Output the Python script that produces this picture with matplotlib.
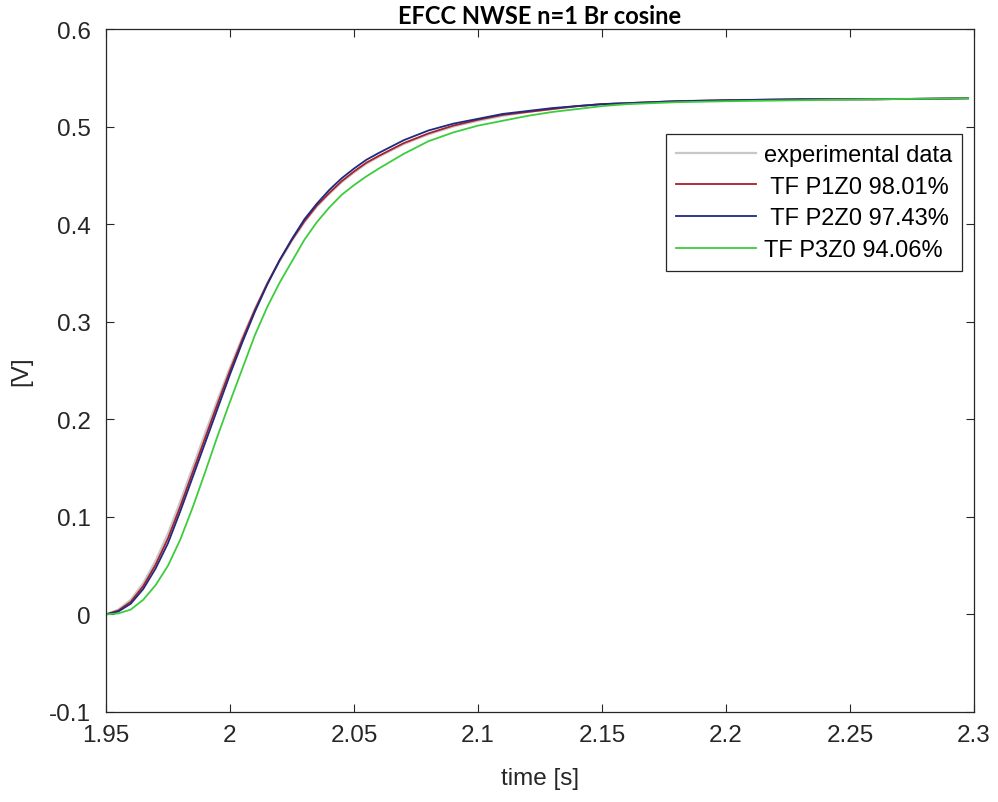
import matplotlib
matplotlib.use('Agg')
from matplotlib import pyplot as plt

plt.rcParams['font.family'] = ['Liberation Sans', 'DejaVu Sans']

# time axis shared by all four curves [s]
t = [1.950, 1.955, 1.960, 1.965, 1.970, 1.975, 1.980, 1.985, 1.990, 1.995,
     2.000, 2.005, 2.010, 2.015, 2.020, 2.025, 2.030, 2.035, 2.040, 2.045,
     2.050, 2.055, 2.060, 2.070, 2.080, 2.090, 2.100, 2.110, 2.120, 2.130,
     2.140, 2.150, 2.160, 2.180, 2.200, 2.230, 2.260, 2.2976]

# experimental data [V]
v_exp = [0.000, 0.005, 0.015, 0.032, 0.055, 0.083, 0.116, 0.151, 0.186, 0.220,
         0.253, 0.284, 0.313, 0.339, 0.362, 0.383, 0.402, 0.418, 0.431, 0.443,
         0.453, 0.462, 0.469, 0.482, 0.492, 0.500, 0.506, 0.511, 0.515, 0.518,
         0.521, 0.523, 0.524, 0.526, 0.527, 0.528, 0.528, 0.529]

# TF P1Z0
v_p1 = [0.000, 0.004, 0.013, 0.029, 0.051, 0.078, 0.111, 0.146, 0.181, 0.216,
        0.250, 0.282, 0.312, 0.339, 0.363, 0.384, 0.403, 0.419, 0.432, 0.444,
        0.454, 0.463, 0.470, 0.483, 0.493, 0.501, 0.507, 0.512, 0.515, 0.518,
        0.521, 0.523, 0.524, 0.526, 0.527, 0.528, 0.528, 0.529]

# TF P2Z0
v_p2 = [0.000, 0.003, 0.011, 0.026, 0.047, 0.073, 0.106, 0.141, 0.176, 0.211,
        0.246, 0.279, 0.310, 0.338, 0.363, 0.385, 0.405, 0.421, 0.435, 0.447,
        0.457, 0.466, 0.473, 0.486, 0.496, 0.503, 0.508, 0.513, 0.516, 0.519,
        0.521, 0.523, 0.524, 0.526, 0.527, 0.528, 0.528, 0.529]

# TF P3Z0
v_p3 = [0.000, 0.001, 0.005, 0.015, 0.030, 0.050, 0.077, 0.110, 0.146, 0.183,
        0.218, 0.252, 0.286, 0.315, 0.340, 0.362, 0.384, 0.402, 0.417, 0.430,
        0.440, 0.449, 0.457, 0.472, 0.485, 0.494, 0.501, 0.506, 0.511, 0.515,
        0.518, 0.521, 0.523, 0.525, 0.526, 0.527, 0.528, 0.529]

labels = ['experimental data', ' TF P1Z0 98.01%', ' TF P2Z0 97.43%', 'TF P3Z0 94.06%']

fig = plt.figure(figsize=(9.98, 8.03), dpi=100)
ax = fig.add_axes([0.1062, 0.1121, 0.8698, 0.8505])

ax.plot(t, v_exp, color='#c8c8c8', lw=1.6, label=labels[0])
ax.plot(t, v_p1, color='#a8202c', lw=1.3, label=labels[1])
ax.plot(t, v_p2, color='#1f2a80', lw=1.3, label=labels[2])
ax.plot(t, v_p3, color='#3ccc3c', lw=1.3, label=labels[3])

ax.set_xlim(1.95, 2.3)
ax.set_ylim(-0.1, 0.6)
ax.set_xticks([1.95, 2.0, 2.05, 2.1, 2.15, 2.2, 2.25, 2.3])
ax.set_xticklabels(['1.95', '2', '2.05', '2.1', '2.15', '2.2', '2.25', '2.3'])
ax.set_yticks([-0.1, 0, 0.1, 0.2, 0.3, 0.4, 0.5, 0.6])
ax.set_yticklabels(['-0.1', '0', '0.1', '0.2', '0.3', '0.4', '0.5', '0.6'])

ax.tick_params(direction='in', length=6, width=0.8, labelsize=17.5,
               top=True, right=True, colors='#262626')
ax.tick_params(axis='x', pad=9)
ax.tick_params(axis='y', pad=11)
for s in ax.spines.values():
    s.set_color('#262626')
    s.set_linewidth(0.9)

ax.set_xlabel('time [s]', fontsize=17.5, color='#262626', labelpad=15)
ax.set_ylabel('[V]', fontsize=17.5, color='#262626', labelpad=12)
ax.set_title('EFCC NWSE n=1 Br cosine', fontsize=17, fontweight='bold',
             family=['Lato', 'DejaVu Sans'], pad=4)

leg = ax.legend(loc='upper right', bbox_to_anchor=(0.9862, 0.8463), fontsize=17,
                frameon=True, fancybox=False, framealpha=1, edgecolor='#262626',
                handlelength=3.4, handletextpad=0.34, labelspacing=0.41,
                borderpad=0.42, borderaxespad=0)
leg.get_frame().set_linewidth(0.9)

fig.savefig('out.png', dpi=100)
